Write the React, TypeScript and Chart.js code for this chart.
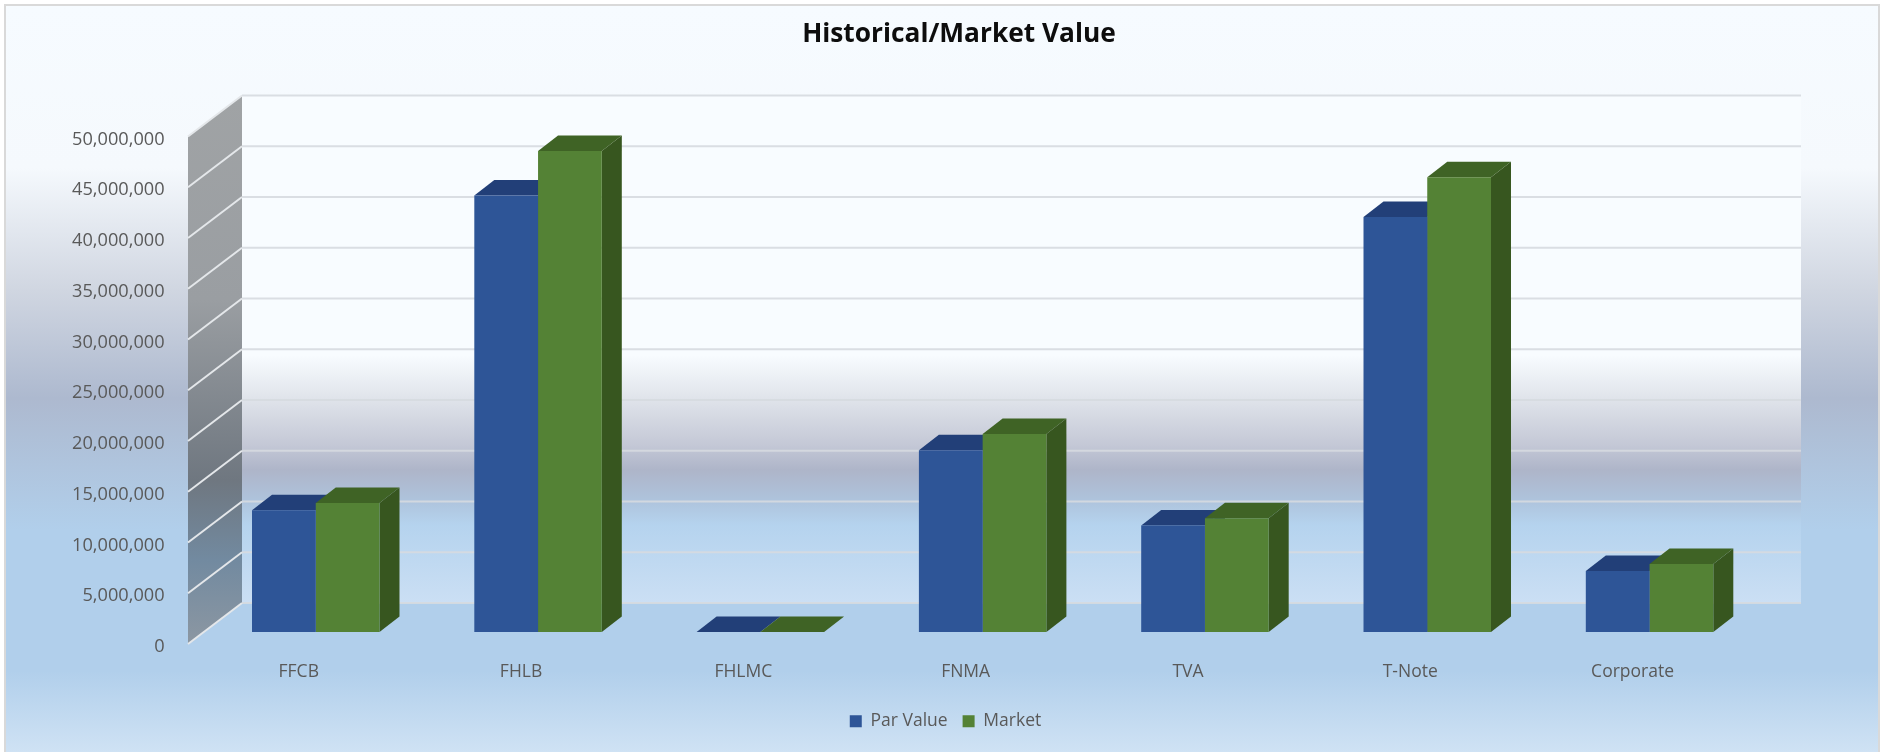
import React, { useEffect, useRef } from "react";
import { Chart, registerables } from "chart.js";

Chart.register(...registerables);

const titleText = "Historical/Market Value";
const categories = ["FFCB", "FHLB", "FHLMC", "FNMA", "TVA", "T-Note", "Corporate"];
const parValues = [12000000, 43000000, 0, 17900000, 10500000, 40900000, 6000000];
const marketValues = [12700000, 47400000, 0, 19500000, 11200000, 44800000, 6700000];
const seriesNames = ["Par Value", "Market"];

const FONT = "'Open Sans', sans-serif";
const W = 1881;
const H = 752;

// 3D look: offsets from the scale's plane, in pixels
const BAR_DX = 20;
const BAR_DY = 15.5;
const WALL_LEFT_OFFSET = 16.6;
const WALL_DX = 54;
const WALL_DY = 41;
const WALL_FRONT_SHIFT = 12;
const WALL_RIGHT_OFFSET = 40.3;

const frontColors = ["#2e5597", "#548235"];
const topColors = ["#223f78", "#3f6325"];
const sideColors = ["#1f3a70", "#37561f"];

function stopsGradient(ctx: CanvasRenderingContext2D, y0: number, y1: number, stops: [number, string][]) {
  const g = ctx.createLinearGradient(0, y0, 0, y1);
  stops.forEach(([y, c]) => g.addColorStop((y - y0) / (y1 - y0), c));
  return g;
}

const poly = (ctx: CanvasRenderingContext2D, pts: number[][], fill: any) => {
  ctx.beginPath();
  pts.forEach(([x, y], i) => (i ? ctx.lineTo(x, y) : ctx.moveTo(x, y)));
  ctx.closePath();
  ctx.fillStyle = fill;
  ctx.fill();
};

const scene3d = {
  id: "scene3d",
  afterLayout(chart: any) {
    chart.titleBlock.left = 37;
    chart.titleBlock.right = W;
    chart.legend.left = 10;
    chart.legend.right = W;
  },
  beforeDraw(chart: any) {
    const ctx = chart.ctx as CanvasRenderingContext2D;
    ctx.save();
    ctx.fillStyle = "#ffffff";
    ctx.fillRect(0, 0, W, H);
    ctx.fillStyle = stopsGradient(ctx, 5, H, [
      [5, "#f6fbff"],
      [168, "#f5f9fd"],
      [290, "#d0d6e1"],
      [398, "#adb9cf"],
      [530, "#b1cfeb"],
      [671, "#b1cfeb"],
      [752, "#cfe2f4"],
    ]);
    ctx.fillRect(5, 5, 1874, H);
    ctx.strokeStyle = "#d9d9d9";
    ctx.lineWidth = 2;
    ctx.strokeRect(5, 5, 1874, H + 10);
    ctx.restore();
  },
  beforeDatasetsDraw(chart: any) {
    const ctx = chart.ctx as CanvasRenderingContext2D;
    const { chartArea: a } = chart;
    const y = chart.scales.y;
    const x0 = a.left - WALL_LEFT_OFFSET;
    const x1 = x0 + WALL_DX;
    const x2 = a.right + WALL_RIGHT_OFFSET;
    const yf = (v: number) => y.getPixelForValue(v) + WALL_FRONT_SHIFT;
    const yb = (v: number) => yf(v) - WALL_DY;
    const tickVals: number[] = y.ticks.map((t: any) => t.value);
    const top = Math.max(...tickVals);
    const bot = Math.min(...tickVals);
    ctx.save();
    // back wall
    ctx.fillStyle = stopsGradient(ctx, yb(top), yb(bot), [
      [yb(top), "#f8fcff"],
      [355, "#f8fcff"],
      [400, "#dfe3ea"],
      [445, "#c4c8d6"],
      [470, "#aeb5c9"],
      [500, "#aec3dc"],
      [525, "#b5d3ee"],
      [yb(bot), "#cbdff4"],
    ]);
    ctx.fillRect(x1, yb(top), x2 - x1, yb(bot) - yb(top));
    // side wall
    poly(
      ctx,
      [
        [x0, yf(top)],
        [x1, yb(top)],
        [x1, yb(bot)],
        [x0, yf(bot)],
      ],
      stopsGradient(ctx, yb(top), yf(bot), [
        [yb(top), "#a0a3a5"],
        [300, "#9a9ea2"],
        [480, "#6f7780"],
        [560, "#728aa0"],
        [yf(bot), "#8c97a2"],
      ])
    );
    // grid lines on both walls
    ctx.lineWidth = 2;
    tickVals.forEach((v) => {
      ctx.strokeStyle = "rgba(214,218,224,0.9)";
      ctx.beginPath();
      ctx.moveTo(x1, yb(v));
      ctx.lineTo(x2, yb(v));
      ctx.stroke();
      ctx.strokeStyle = "#e4e7ea";
      ctx.beginPath();
      ctx.moveTo(x0, yf(v));
      ctx.lineTo(x1, yb(v));
      ctx.stroke();
    });
    // side and top faces of the bars, left series first; the library's bars draw the fronts over them
    [0, 1].forEach((i) => {
      chart.getDatasetMeta(i).data.forEach((bar: any) => {
        const p = bar.getProps(["x", "y", "base", "width"], true);
        const l = p.x - p.width / 2;
        const r = p.x + p.width / 2;
        poly(
          ctx,
          [
            [r, p.y],
            [r + BAR_DX, p.y - BAR_DY],
            [r + BAR_DX, p.base - BAR_DY],
            [r, p.base],
          ],
          sideColors[i]
        );
        poly(
          ctx,
          [
            [l, p.y],
            [l + BAR_DX, p.y - BAR_DY],
            [r + BAR_DX, p.y - BAR_DY],
            [r, p.y],
          ],
          topColors[i]
        );
      });
    });
    ctx.restore();
  },
};

export default function App() {
  const ref = useRef<HTMLCanvasElement | null>(null);
  useEffect(() => {
    if (!ref.current) return;
    const chart = new Chart(ref.current, {
      type: "bar",
      data: {
        labels: categories,
        datasets: [
          {
            label: seriesNames[0],
            data: parValues,
            backgroundColor: frontColors[0],
            barPercentage: 1,
            categoryPercentage: 0.5735,
          },
          {
            label: seriesNames[1],
            data: marketValues,
            backgroundColor: frontColors[1],
            barPercentage: 1,
            categoryPercentage: 0.5735,
          },
        ],
      },
      options: {
        animation: false,
        responsive: false,
        devicePixelRatio: 1,
        layout: { padding: { left: 0, right: 120.3, top: 0, bottom: 12 } },
        plugins: {
          tooltip: { enabled: false },
          title: {
            display: true,
            text: titleText,
            color: "#0d0d0d",
            font: { family: FONT, size: 26.3, weight: "bold" },
            padding: { top: 19, bottom: 74 },
          },
          legend: {
            display: true,
            position: "bottom",
            labels: {
              boxWidth: 12,
              boxHeight: 12,
              padding: 15,
              color: "#595959",
              font: { family: FONT, size: 17.5 },
            },
          },
        },
        scales: {
          x: {
            grid: { display: false, drawTicks: false },
            border: { display: false },
            afterFit(s: any) {
              s.height = 65.5;
            },
            ticks: {
              color: "#595959",
              font: { family: FONT, size: 17.5 },
              padding: 30,
              labelOffset: -17,
              maxRotation: 0,
            },
          },
          y: {
            min: 0,
            max: 50000000,
            grid: { display: false, drawTicks: false },
            border: { display: false },
            afterFit(s: any) {
              s.width = 204.6;
            },
            ticks: {
              stepSize: 5000000,
              color: "#595959",
              font: { family: FONT, size: 18.2 },
              padding: 40,
              labelOffset: 15,
              callback: (v: any) => Number(v).toLocaleString("en-US"),
            },
          },
        },
      } as any,
      plugins: [scene3d as any],
    });
    return () => chart.destroy();
  }, []);
  return (
    <div style={{ position: "absolute", left: 0, top: 0, width: W, height: H, overflow: "hidden" }}>
      <canvas ref={ref} width={W} height={H} style={{ display: "block" }} />
    </div>
  );
}
